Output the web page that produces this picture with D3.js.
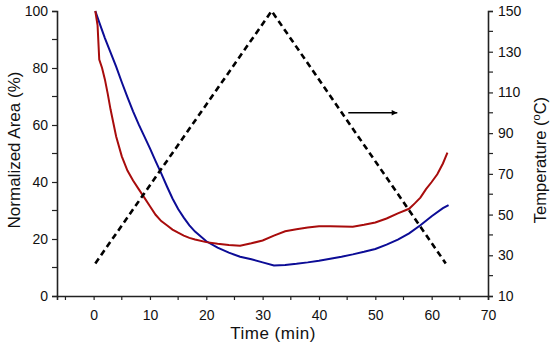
<!DOCTYPE html>
<html><head><meta charset="utf-8">
<script src="https://cdn.jsdelivr.net/npm/d3@7"></script>
<style>
body{margin:0;background:#fff;}
svg{display:block;font-family:"Liberation Sans",Arial,sans-serif;}
</style></head>
<body><svg id="c" width="550" height="349"></svg>
<script>
const timeMin = [0.3,0.7,1,1.5,2,2.5,3,4,5,6,7,8,9,10,11,12,13,14,15,16,17,18,20,22,24,26,28,30,32,34,36,38,40,42,44,46,48,50,52,54,56,57,58,59,60,61,62,62.8];
const redArea = [100,95,83,80,76,71,65.5,56,49,44,40.5,37.5,34.5,31.5,28.5,26.3,24.8,23.3,22.2,21.2,20.4,19.8,18.9,18.3,17.9,17.6,18.5,19.5,21.2,22.7,23.4,24.0,24.5,24.5,24.4,24.3,25.0,25.8,27.2,29.0,30.6,32.5,34.5,37.5,40,42.7,46.5,50.3];
const blueTime = [0.3,1,2,3,4,5,6,7,8,9,10,11,12,13,14,15,16,17,18,20,22,24,26,28,30,32,34,36,38,40,42,44,46,48,50,52,54,56,58,60,62,63];
const blueArea = [100,96,90.5,85.5,80.5,75,69.8,64.8,60.2,56,51.8,47.3,43,38.5,34.2,30.5,27.5,24.8,22.6,19.2,17,15.2,13.8,12.9,11.8,10.7,10.9,11.3,11.8,12.4,13.1,13.8,14.6,15.5,16.5,18,19.8,22,24.8,28,30.8,31.9];
const tempTime = [0.3,31.6,62.5];
const tempC = [26,150,26];
const xTicks = [0,10,20,30,40,50,60,70];
const yLeftTicks = [0,20,40,60,80,100];
const yRightTicks = [10,30,50,70,90,110,130,150];
const arrowT = [45.2,53.9], arrowTemp = 100;

const svg = d3.select("#c");
const x = d3.scaleLinear().domain([-6.5,70]).range([57,488]);
const yL = d3.scaleLinear().domain([0,100]).range([296,11]);
const yR = d3.scaleLinear().domain([10,150]).range([296,11]);

const axisColor = "#222";
function styleAxis(g){
  g.select(".domain").attr("stroke",axisColor).attr("stroke-width",1.6);
  g.selectAll(".tick line").attr("stroke",axisColor).attr("stroke-width",1.2);
  g.selectAll("text").attr("font-size",14).attr("fill","#111").attr("font-family","'Liberation Sans',Arial,sans-serif");
}
const minorX = d3.range(-5,70,10);
const minorL = d3.range(10,100,20);
const minorR = d3.range(20,150,20);

const gx = svg.append("g").attr("transform","translate(0,296)")
  .call(d3.axisBottom(x).tickValues(xTicks).tickSizeOuter(0).tickSize(4).tickPadding(10));
styleAxis(gx);
gx.selectAll(".minor").data(minorX).join("line").attr("x1",d=>x(d)).attr("x2",d=>x(d)).attr("y1",0).attr("y2",4).attr("stroke",axisColor).attr("stroke-width",1.2);

const gl = svg.append("g").attr("transform","translate(57,0)")
  .call(d3.axisLeft(yL).tickValues(yLeftTicks).tickSizeOuter(0).tickSize(5).tickPadding(4));
styleAxis(gl);
gl.selectAll(".minor").data(minorL).join("line").attr("x1",0).attr("x2",-5).attr("y1",d=>yL(d)).attr("y2",d=>yL(d)).attr("stroke",axisColor).attr("stroke-width",1.2);

const gr = svg.append("g").attr("transform","translate(488,0)")
  .call(d3.axisRight(yR).tickValues(yRightTicks).tickSizeOuter(0).tickSize(5).tickPadding(5));
styleAxis(gr);
gr.selectAll(".minor").data(minorR).join("line").attr("x1",0).attr("x2",5).attr("y1",d=>yR(d)).attr("y2",d=>yR(d)).attr("stroke",axisColor).attr("stroke-width",1.2);

const lineL = d3.line().x(d=>x(d[0])).y(d=>yL(d[1]));
const lineR = d3.line().x(d=>x(d[0])).y(d=>yR(d[1]));
svg.append("path").datum(blueTime.map((t,i)=>[t,blueArea[i]])).attr("d",lineL)
  .attr("fill","none").attr("stroke","#0c0c96").attr("stroke-width",2);
svg.append("path").datum(timeMin.map((t,i)=>[t,redArea[i]])).attr("d",lineL)
  .attr("fill","none").attr("stroke","#a80c0c").attr("stroke-width",2);
svg.append("path").datum(tempTime.map((t,i)=>[t,tempC[i]])).attr("d",lineR)
  .attr("fill","none").attr("stroke","#000").attr("stroke-width",2.6).attr("stroke-dasharray","6,4");

svg.append("defs").append("marker").attr("id","ah").attr("viewBox","0 0 10 10")
  .attr("refX",10).attr("refY",5).attr("markerWidth",5).attr("markerHeight",3.5).attr("orient","auto")
  .attr("markerUnits","strokeWidth")
  .append("path").attr("d","M0,0L10,5L0,10Z").attr("fill","#000");
svg.append("line").attr("x1",x(arrowT[0])).attr("x2",x(arrowT[1])).attr("y1",yR(arrowTemp)).attr("y2",yR(arrowTemp))
  .attr("stroke","#000").attr("stroke-width",1.6).attr("marker-end","url(#ah)");

svg.append("text").attr("x",273).attr("y",339).attr("text-anchor","middle").attr("font-size",17).attr("fill","#111")
  .attr("letter-spacing",0.5).text("Time (min)");
svg.append("text").attr("transform","translate(20,150) rotate(-90)").attr("text-anchor","middle").attr("font-size",17).attr("fill","#111")
  .text("Normalized Area (%)");
const tr = svg.append("text").attr("transform","translate(546,160) rotate(-90)").attr("text-anchor","middle").attr("font-size",16.5).attr("fill","#111");
tr.append("tspan").text("Temperature (");
tr.append("tspan").attr("font-size",11).attr("dy",-6).text("o");
tr.append("tspan").attr("dy",6).text("C)");
</script></body></html>
